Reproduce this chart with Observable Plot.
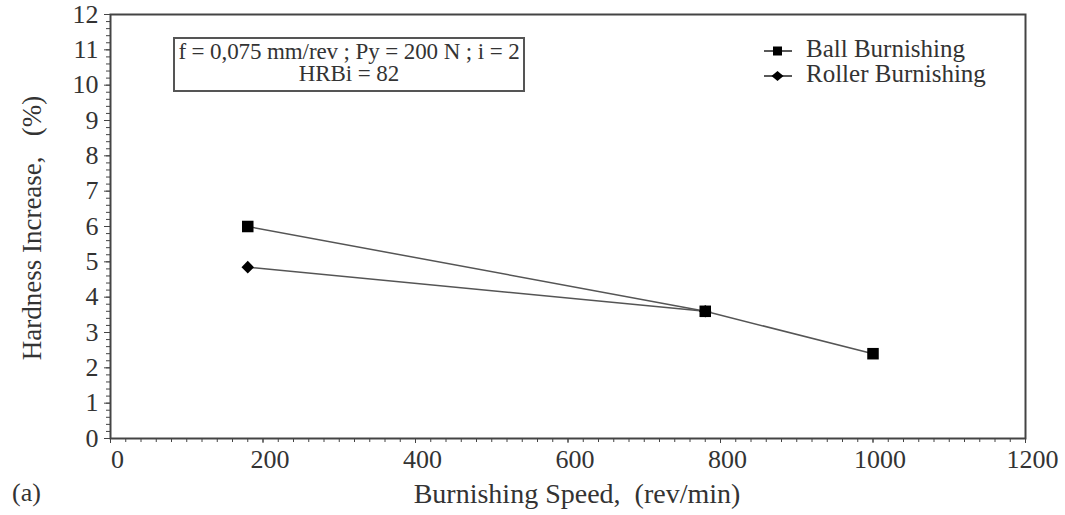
<!DOCTYPE html>
<html>
<head>
<meta charset="utf-8">
<script src="https://cdn.jsdelivr.net/npm/d3@7"></script>
<script src="https://cdn.jsdelivr.net/npm/@observablehq/plot@0.6"></script>
<style>
  html, body { margin: 0; padding: 0; background: #fff; }
  #wrap { position: relative; width: 1065px; height: 515px; font-family: "Liberation Serif", serif; color: #333; }
  #wrap svg { position: absolute; left: 0; top: 0; }
  #wrap svg, #wrap svg text, #wrap svg g { font-family: "Liberation Serif", serif !important; }
  #wrap svg g[aria-label="y-axis tick label"] { font-size: 26px !important; }
  .ov { position: absolute; white-space: pre; font-family: "Liberation Serif", serif; }
</style>
</head>
<body>
<div id="wrap"></div>
<script>
// ---- data ----
const ballSpeed = [180, 780, 1000];
const ballHardness = [6.0, 3.6, 2.4];
const rollerSpeed = [180, 780];
const rollerHardness = [4.85, 3.6];
const xTicks = [0, 200, 400, 600, 800, 1000, 1200];
const yTicks = [0, 1, 2, 3, 4, 5, 6, 7, 8, 9, 10, 11, 12];
const xMinor = d3.range(0, 1201, 20);
const yMinor = d3.range(0, 12.01, 0.2);
const seriesNames = ["Ball Burnishing", "Roller Burnishing"];
const noteLines = ["f = 0,075 mm/rev ; Py = 200 N ; i = 2", "HRBi = 82"];
const xTitle = "Burnishing Speed,  (rev/min)";
const yTitle = "Hardness Increase,   (%)";
const panelLabel = "(a)";

const ball = ballSpeed.map((s, i) => ({speed: s, h: ballHardness[i]}));
const roller = rollerSpeed.map((s, i) => ({speed: s, h: rollerHardness[i]}));

const ink = "#444";
const chart = Plot.plot({
  width: 1065,
  height: 515,
  marginLeft: 110,
  marginRight: 40,
  marginTop: 14,
  marginBottom: 77,
  style: {fontFamily: "'Liberation Serif', serif", color: "#333", background: "#fff"},
  x: {domain: [0, 1200]},
  y: {domain: [0, 12]},
  marks: [
    Plot.axisY({ticks: yMinor, tickSize: 4, text: null, stroke: ink, label: null}),
    Plot.axisY({ticks: yTicks, tickSize: 6, tickPadding: 6, fontSize: 26, stroke: ink, label: null, tickFormat: d3.format("d")}),
    Plot.axisX({ticks: xMinor, tickSize: 4, text: null, stroke: ink, label: null}),
    Plot.axisX({ticks: xTicks, tickSize: 5, text: null, stroke: ink, label: null}),
    Plot.text(xTicks, {x: d => d, text: d => String(d), frameAnchor: "bottom", lineAnchor: "top", dy: 11, dx: 7, fontSize: 26, fill: "#333"}),
    Plot.frame({stroke: ink, strokeWidth: 2}),
    Plot.line(ball, {x: "speed", y: "h", stroke: "#555", strokeWidth: 1.5}),
    Plot.line(roller, {x: "speed", y: "h", stroke: "#555", strokeWidth: 1.5}),
    Plot.dot(roller, {x: "speed", y: "h", symbol: "square", r: 5, rotate: 45, fill: "#000", stroke: "none"}),
    Plot.dot(ball, {x: "speed", y: "h", symbol: "square", r: 6.5, fill: "#000", stroke: "none"})
  ]
});
const wrap = document.getElementById("wrap");
wrap.appendChild(chart);

function ov(html, css) {
  const d = document.createElement("div");
  d.className = "ov";
  d.innerHTML = html;
  Object.assign(d.style, css);
  wrap.appendChild(d);
  return d;
}
// annotation box
ov(noteLines.join("\n"), {left: "173px", top: "37px", width: "352px", height: "55px", border: "2px solid #555",
  textAlign: "center", fontSize: "23px", lineHeight: "22px", paddingTop: "2px", boxSizing: "border-box", letterSpacing: "-0.1px"});
// legend
const sym = [
  '<svg width="30" height="12"><line x1="1" y1="6" x2="29" y2="6" stroke="#222" stroke-width="1.5"/><rect x="10" y="1.5" width="9" height="9" fill="#000"/></svg>',
  '<svg width="30" height="12"><line x1="1" y1="6" x2="29" y2="6" stroke="#222" stroke-width="1.5"/><path d="M14.5 1 L20.5 6 L14.5 11 L8.5 6 Z" fill="#000"/></svg>'
];
seriesNames.forEach((n, i) => {
  ov(sym[i], {left: "763px", top: (45 + i * 25) + "px"});
  ov(n, {left: "806px", top: (35 + i * 25) + "px", fontSize: "25px"});
});
// titles
ov(xTitle, {left: "0px", width: "1154px", textAlign: "center", top: "478px", fontSize: "28px"});
ov(yTitle, {left: "32px", top: "228px", fontSize: "27px", transform: "translate(-50%, -50%) rotate(-90deg)"});
ov(panelLabel, {left: "12px", top: "478px", fontSize: "26px"});
</script>
</body>
</html>
